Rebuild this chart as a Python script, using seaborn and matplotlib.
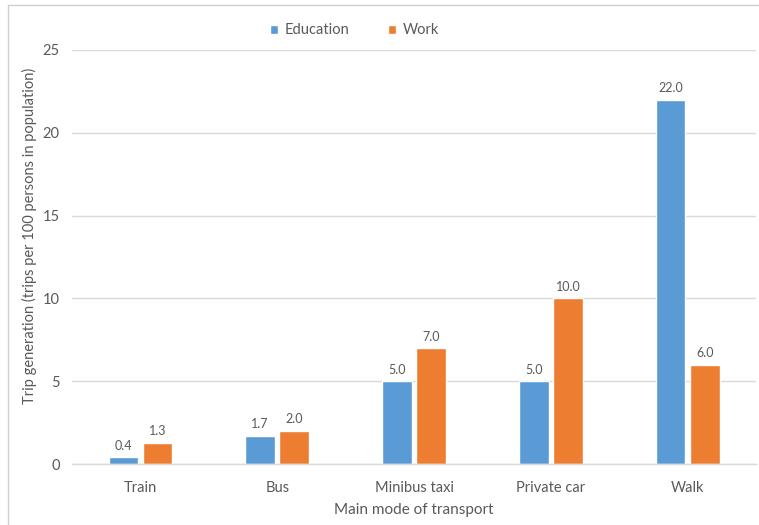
import matplotlib
matplotlib.use("Agg")
import matplotlib.pyplot as plt
from matplotlib.lines import Line2D
import seaborn as sns
import pandas as pd

modes = ["Train", "Bus", "Minibus taxi", "Private car", "Walk"]
education = [0.4, 1.7, 5.0, 5.0, 22.0]
work = [1.3, 2.0, 7.0, 10.0, 6.0]
series_names = ["Education", "Work"]
y_ticks = [0, 5, 10, 15, 20, 25]

df = pd.DataFrame({
    "mode": modes * 2,
    "value": education + work,
    "purpose": [series_names[0]] * len(modes) + [series_names[1]] * len(modes),
})

sns.set_theme(style="white")
plt.rcParams["font.family"] = ["Lato", "DejaVu Sans"]
text_grey = "#595959"
grid_grey = "#D9D9D9"

fig = plt.figure(figsize=(7.59, 5.25), dpi=100)
ax = fig.add_axes([0.095, 0.116, 0.901, 0.789])

palette = {"Education": "#5B9BD5", "Work": "#ED7D31"}
sns.barplot(data=df, x="mode", y="value", hue="purpose", order=modes,
            hue_order=series_names, palette=palette, width=0.5, gap=0.13,
            saturation=1, ax=ax, legend=True)

for container in ax.containers:
    ax.bar_label(container, fmt="%.1f", padding=4, fontsize=9, color=text_grey)

ax.set_ylim(0, 25)
ax.set_yticks(y_ticks)
ax.set_xlim(-0.5, len(modes) - 0.5)
ax.yaxis.grid(True, color=grid_grey, linewidth=1)
ax.set_axisbelow(True)
for side in ["left", "right", "top"]:
    ax.spines[side].set_visible(False)
ax.spines["bottom"].set_color(grid_grey)
ax.spines["bottom"].set_linewidth(1)
ax.tick_params(axis="both", length=0, colors=text_grey, labelsize=10.5)
ax.tick_params(axis="x", pad=12)
ax.tick_params(axis="y", pad=9)

ax.set_xlabel("Main mode of transport", fontsize=11, color=text_grey, labelpad=6)
ax.set_ylabel("Trip generation (trips per 100 persons in population)",
              fontsize=10.5, color=text_grey)
ax.yaxis.set_label_coords(-0.052, 0.55)

handles, labels = ax.get_legend_handles_labels()
ax.legend_.remove()
fig.legend(handles, labels, loc="center", bbox_to_anchor=(0.467, 0.942),
           ncol=2, frameon=False, fontsize=10.5, labelcolor=text_grey,
           handlelength=0.6, handleheight=0.6, handletextpad=0.45,
           columnspacing=2.6)

# thin frame line along the top and left of the chart area
fig.add_artist(Line2D([8 / 759, 1], [1 - 5 / 525, 1 - 5 / 525],
                      transform=fig.transFigure, color="#D0D0D0", linewidth=1))
fig.add_artist(Line2D([8 / 759, 8 / 759], [0, 1 - 5 / 525],
                      transform=fig.transFigure, color="#D0D0D0", linewidth=1))

fig.savefig("out.png", dpi=100, facecolor="white")
